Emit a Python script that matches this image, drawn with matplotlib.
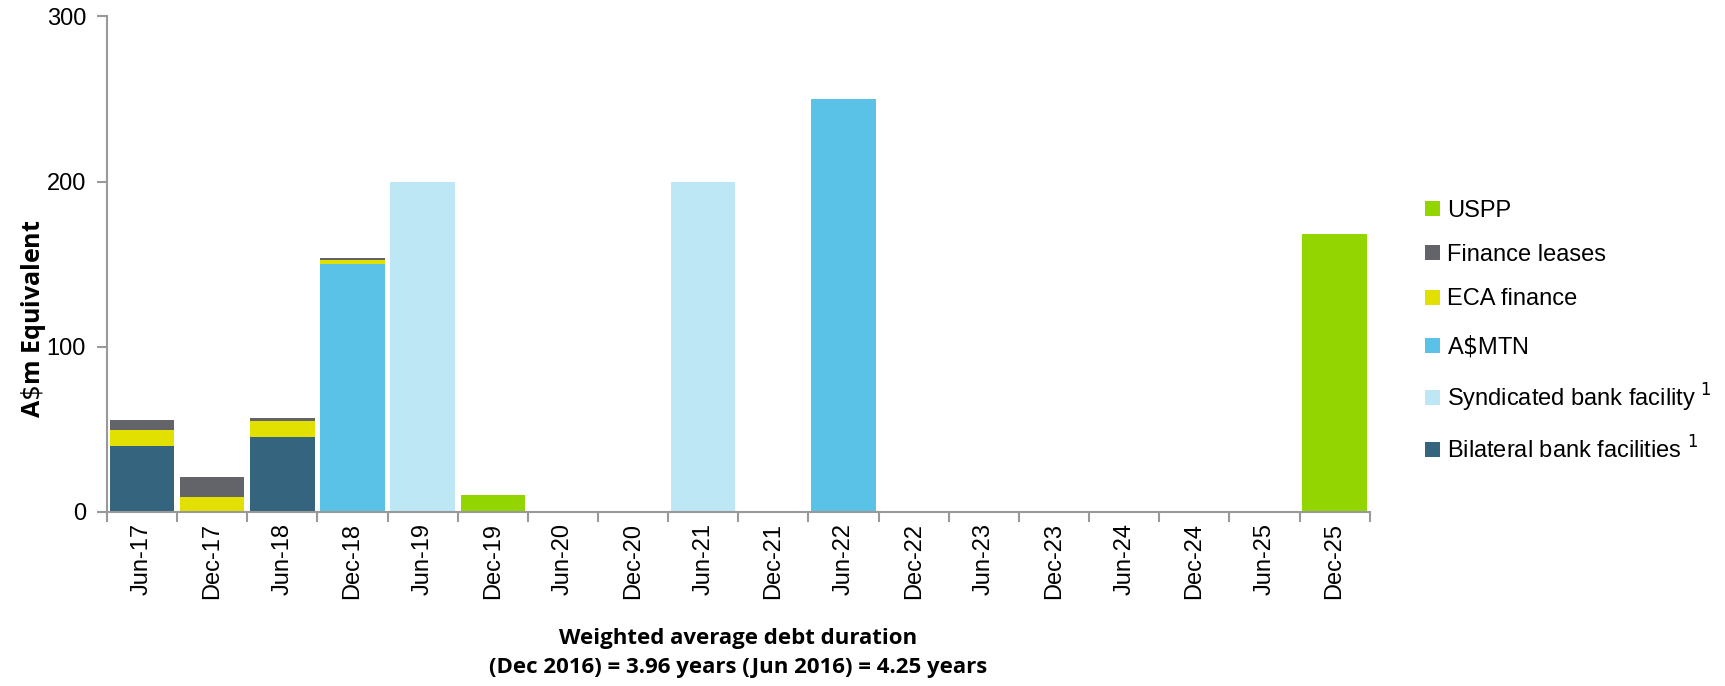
import numpy as np
import matplotlib.pyplot as plt
from matplotlib.patches import Patch

# Debt maturity profile (A$m equivalent)
periods = ["Jun-17", "Dec-17", "Jun-18", "Dec-18", "Jun-19", "Dec-19", "Jun-20", "Dec-20", "Jun-21",
           "Dec-21", "Jun-22", "Dec-22", "Jun-23", "Dec-23", "Jun-24", "Dec-24", "Jun-25", "Dec-25"]
bilateral = [40, 0, 45, 0, 0, 0, 0, 0, 0, 0, 0, 0, 0, 0, 0, 0, 0, 0]
syndicated = [0, 0, 0, 0, 200, 0, 0, 0, 200, 0, 0, 0, 0, 0, 0, 0, 0, 0]
amtn = [0, 0, 0, 150, 0, 0, 0, 0, 0, 0, 250, 0, 0, 0, 0, 0, 0, 0]
eca = [9.5, 9, 10, 2.5, 0, 0, 0, 0, 0, 0, 0, 0, 0, 0, 0, 0, 0, 0]
leases = [6, 12, 2, 1, 0, 0, 0, 0, 0, 0, 0, 0, 0, 0, 0, 0, 0, 0]
uspp = [0, 0, 0, 0, 0, 10, 0, 0, 0, 0, 0, 0, 0, 0, 0, 0, 0, 168]

series = [
    ("Bilateral bank facilities $^{1}$", bilateral, "#35647e"),
    ("Syndicated bank facility $^{1}$", syndicated, "#bde7f4"),
    ("A$\\$$MTN", amtn, "#5bc2e7"),
    ("ECA finance", eca, "#e1e000"),
    ("Finance leases", leases, "#636469"),
    ("USPP", uspp, "#93d500"),
]

plt.rcParams['font.family'] = ['Liberation Sans', 'DejaVu Sans']

fig = plt.figure(figsize=(17.25, 6.86), dpi=100)
ax = fig.add_axes([0.062, 0.254, 0.732, 0.722])

x = np.arange(len(periods))
bottom = np.zeros(len(periods))
for name, vals, col in series:
    vals = np.array(vals, dtype=float)
    ax.bar(x, vals, width=0.92, bottom=bottom, color=col, edgecolor="none")
    bottom += vals

ax.set_xlim(-0.5, len(periods) - 0.5)
ax.set_ylim(0, 300)
ax.set_yticks([0, 100, 200, 300])
ax.set_xticks(x)
ax.set_xticklabels(periods, rotation=90, fontsize=17)
ax.set_xticks(np.arange(-0.5, len(periods)), minor=True)
ax.tick_params(axis="x", which="major", length=0, pad=8)
ax.tick_params(axis="x", which="minor", length=7, color="#999999", width=1.5)
ax.tick_params(axis="y", labelsize=17, length=7, color="#999999", width=1.5, pad=8)

for s in ["top", "right"]:
    ax.spines[s].set_visible(False)
for s in ["left", "bottom"]:
    ax.spines[s].set_color("#999999")
    ax.spines[s].set_linewidth(1.5)

ax.set_ylabel("A$\\$$m Equivalent", fontsize=18, fontweight="bold", family="Open Sans")
ax.yaxis.set_label_coords(-0.047, 0.39)
ax.set_xlabel("Weighted average debt duration\n(Dec 2016) = 3.96 years (Jun 2016) = 4.25 years",
              fontsize=16, fontweight="bold", family="Open Sans", labelpad=21, linespacing=1.5)

handles = [Patch(facecolor=col, label=name) for name, vals, col in reversed(series)]
leg = fig.legend(handles=handles, loc="upper left", bbox_to_anchor=(0.814, 0.74), frameon=False,
                 fontsize=17, handlelength=0.6, handleheight=0.6, handletextpad=0.3, labelspacing=0.95)

plt.savefig("out.png", dpi=100)
